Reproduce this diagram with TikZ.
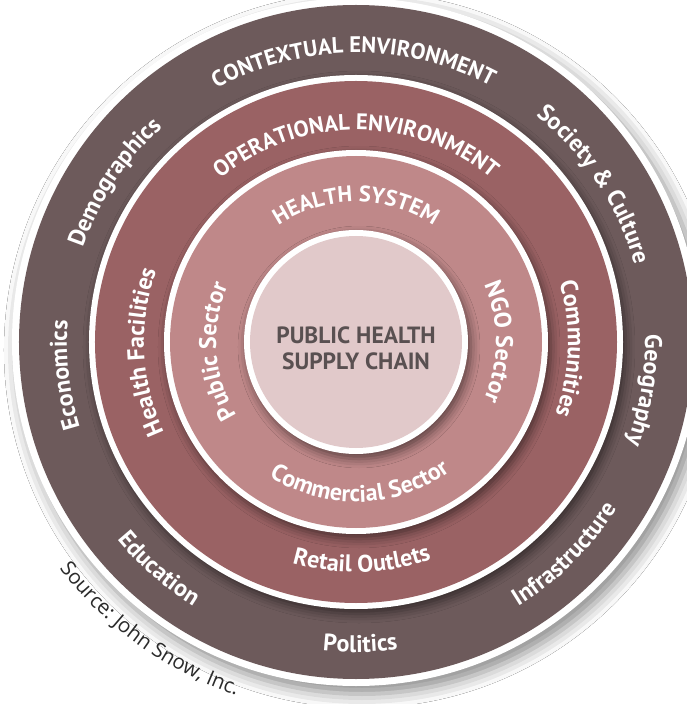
\documentclass[tikz,border=0pt]{standalone}
\usepackage{fontspec}
\setmainfont{PT Sans}
\newfontfamily\srcfont{Open Sans}
\usetikzlibrary{decorations.text,shadows.blur}
\definecolor{ctxband}{HTML}{6D5A5B}
\definecolor{opband}{HTML}{9A6264}
\definecolor{hsband}{HTML}{BF8889}
\definecolor{coreband}{HTML}{E1C9CA}
\definecolor{coretext}{HTML}{595051}
\definecolor{srctext}{HTML}{2A2A2A}
\newcommand\bandfont{\fontsize{24}{24}\selectfont\bfseries\color{white}}
\newcommand\capsfont{\fontsize{22.5}{22.5}\selectfont\bfseries\color{white}}
\newcommand\srcfnt{\srcfont\fontsize{20.5}{20.5}\selectfont\color{srctext}}
\newcommand\cwlabel[4]{\path[decorate,decoration={text along path,text align=center,text={|#3|#4}}] ({#1+70}:#2) arc[start angle={#1+70},end angle={#1-70},radius=#2];}
\newcommand\ccwlabel[4]{\path[decorate,decoration={text along path,text align=center,text={|#3|#4}}] ({#1-70}:#2) arc[start angle={#1-70},end angle={#1+70},radius=#2];}
\tikzset{
  bigshadow/.style={blur shadow={shadow xshift=6pt,shadow yshift=-8pt,shadow blur radius=14pt,shadow opacity=45}},
  ringshadow/.style={blur shadow={shadow xshift=3pt,shadow yshift=-5pt,shadow blur radius=9pt,shadow opacity=50}},
  coretextstyle/.style={font=\fontsize{23.5}{26}\selectfont\bfseries, text=coretext, align=center}
}
\begin{document}
\begin{tikzpicture}[x=1pt,y=1pt]
\useasboundingbox (-356,-362) rectangle (331,342);
\fill[white] (-356,-362) rectangle (331,342);
% rings
\fill[white,bigshadow] (0,0) circle[radius=344];
\fill[ctxband] (0,0) circle[radius=337];
\fill[white,ringshadow] (0,0) circle[radius=267];
\fill[opband] (0,0) circle[radius=261];
\fill[white,ringshadow] (0,0) circle[radius=192];
\fill[hsband] (0,0) circle[radius=186];
\fill[white,ringshadow] (0,0) circle[radius=112];
\fill[coreband] (0,0) circle[radius=106];
% contextual environment
\cwlabel{90.5}{289}{\capsfont}{CONTEXTUAL ENVIRONMENT}
\cwlabel{146.5}{289}{\bandfont}{Demographics}
\cwlabel{186.5}{289}{\bandfont}{Economics}
\cwlabel{33.5}{289}{\bandfont}{Society {\&} Culture}
\cwlabel{350.5}{289}{\bandfont}{Geography}
\ccwlabel{229}{310}{\bandfont}{Education}
\ccwlabel{270.8}{310}{\bandfont}{Politics}
\ccwlabel{314.5}{310}{\bandfont}{Infrastructure}
% operational environment
\cwlabel{90}{212}{\capsfont}{OPERATIONAL ENVIRONMENT}
\cwlabel{182.7}{212}{\bandfont}{Health Facilities}
\cwlabel{358.2}{212}{\bandfont}{Communities}
\ccwlabel{271.5}{230}{\bandfont}{Retail Outlets}
% health system
\cwlabel{90}{140}{\capsfont}{HEALTH SYSTEM}
\cwlabel{183.9}{140}{\bandfont}{Public Sector}
\cwlabel{0}{140}{\bandfont}{NGO Sector}
\ccwlabel{271.5}{160}{\bandfont}{Commercial Sector}
% core
\node[coretextstyle] (core) at (0,-6) {PUBLIC HEALTH\\SUPPLY CHAIN};
% source
\ccwlabel{234.3}{373}{\srcfnt}{Source: John Snow, Inc.}
\end{tikzpicture}
\end{document}
